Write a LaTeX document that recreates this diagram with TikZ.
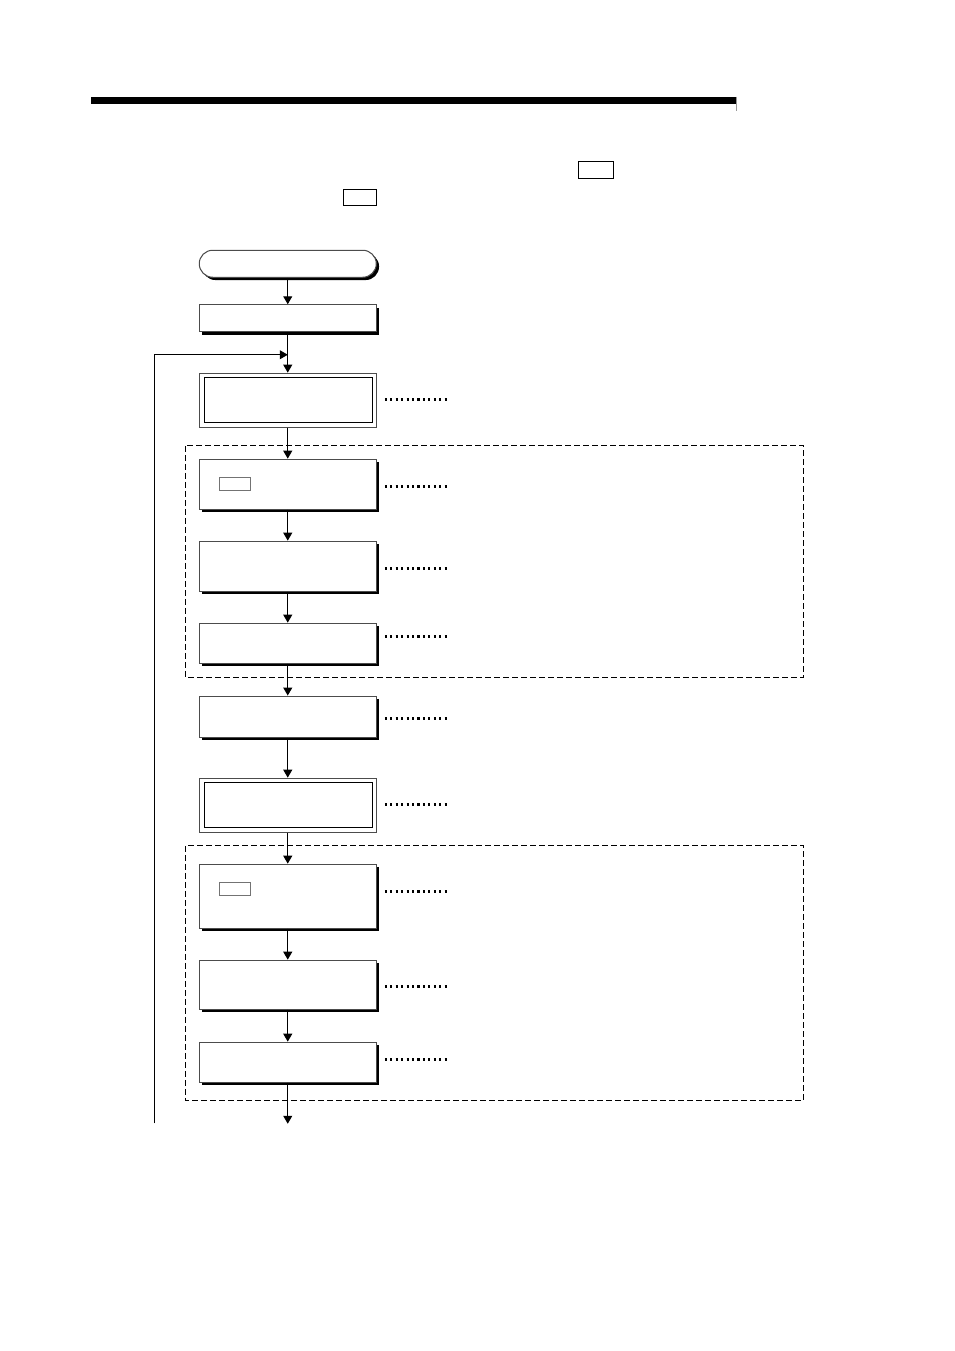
\documentclass[tikz,border=0pt]{standalone}
\usetikzlibrary{positioning,arrows.meta,shapes}
\usetikzlibrary{shadows}
\tikzset{
  flow/.style={draw=black,line width=1pt,-{Triangle[width=9pt,length=8pt]}},
  leader/.style={draw=black,line width=2.4pt,dash pattern=on 2.1pt off 3.35pt},
  group/.style={draw=black,line width=0.9pt,dash pattern=on 6pt off 3pt},
  stepbox/.style={draw=black!70,fill=white,line width=1pt,inner sep=0pt,minimum width=177pt,
    drop shadow={shadow xshift=2.8pt,shadow yshift=-2.8pt,fill=black,opacity=1}},
  startbox/.style={stepbox,rounded rectangle,minimum height=27pt},
  dblbox/.style={draw=black!70,fill=white,line width=1pt,inner sep=0pt,minimum width=177pt,minimum height=54pt},
  dblinner/.style={draw=black,fill=white,line width=1pt,inner sep=0pt,minimum width=168pt,minimum height=45pt},
  keybox/.style={draw=black,fill=white,line width=1pt,inner sep=0pt},
  keygrey/.style={draw=black!55,fill=white,line width=1pt,inner sep=0pt,minimum width=31pt,minimum height=13pt}
}
\begin{document}
\begin{tikzpicture}[x=1pt, y=-1pt]
    \useasboundingbox (0,0) rectangle (954,1351);
    \begin{scope}[shift={(-0.25,-0.25)}]
    % header
    \fill[black] (91.3,97.3) rectangle (736.5,104.4);
    \draw[black!40] (736.6,97) -- (736.6,111);
    \node[keybox,minimum width=35pt,minimum height=17pt] (keyA) at (596,170) {};
    \node[keybox,minimum width=33pt,minimum height=16pt] (keyB) at (360,197.5) {};
    % dashed groups
    \draw[group] (186,446) rectangle (804,677.6);
    \draw[group] (186,846) rectangle (804,1100.6);
    % boxes
    \node[startbox] (start) at (288,264) {};
    \node[stepbox,minimum height=27pt] (init) at (288,318.5) {};
    \node[dblbox] (refreshA) at (288,400.4) {};
    \node[dblinner] (refreshAin) at (288.4,400.4) {};
    \node[stepbox,minimum height=50pt] (stepA) at (288,484.4) {};
    \node[keygrey] (keyC) at (235,484.4) {};
    \node[stepbox,minimum height=50pt] (stepB) at (288,566.4) {};
    \node[stepbox,minimum height=40pt] (stepC) at (288,643.4) {};
    \node[stepbox,minimum height=41pt] (stepD) at (288,716.8) {};
    \node[dblbox] (refreshB) at (288,805.4) {};
    \node[dblinner] (refreshBin) at (288.4,805.4) {};
    \node[stepbox,minimum height=64pt] (stepE) at (288,896.4) {};
    \node[keygrey] (keyD) at (235,889) {};
    \node[stepbox,minimum height=49pt] (stepF) at (288,984.9) {};
    \node[stepbox,minimum height=40pt] (stepG) at (288,1062.4) {};
    % free ends
    \coordinate (loopend) at (288,355);
    \coordinate (loopfoot) at (154.4,1123.5);
    \coordinate (loopcorner) at (154.4,355);
    \coordinate (exit) at (288,1124);
    % flow
    \draw[flow] (start) -- (init);
    \draw[flow] (init) -- (refreshA);
    \draw[flow] (refreshA) -- (stepA);
    \draw[flow] (stepA) -- (stepB);
    \draw[flow] (stepB) -- (stepC);
    \draw[flow] (stepC) -- (stepD);
    \draw[flow] (stepD) -- (refreshB);
    \draw[flow] (refreshB) -- (stepE);
    \draw[flow] (stepE) -- (stepF);
    \draw[flow] (stepF) -- (stepG);
    \draw[flow] (stepG) -- (exit);
    \draw[flow] (loopfoot) -- (loopcorner) -- (loopend);
    % dotted leaders
    \foreach \y in {399,486,568,636,718,804,891,986,1059} {
      \coordinate (lead\y a) at (385,\y+0.9);
      \coordinate (lead\y b) at (449,\y+0.9);
      \draw[leader] (lead\y a) -- (lead\y b);
    }
    \end{scope}
\end{tikzpicture}
\end{document}
